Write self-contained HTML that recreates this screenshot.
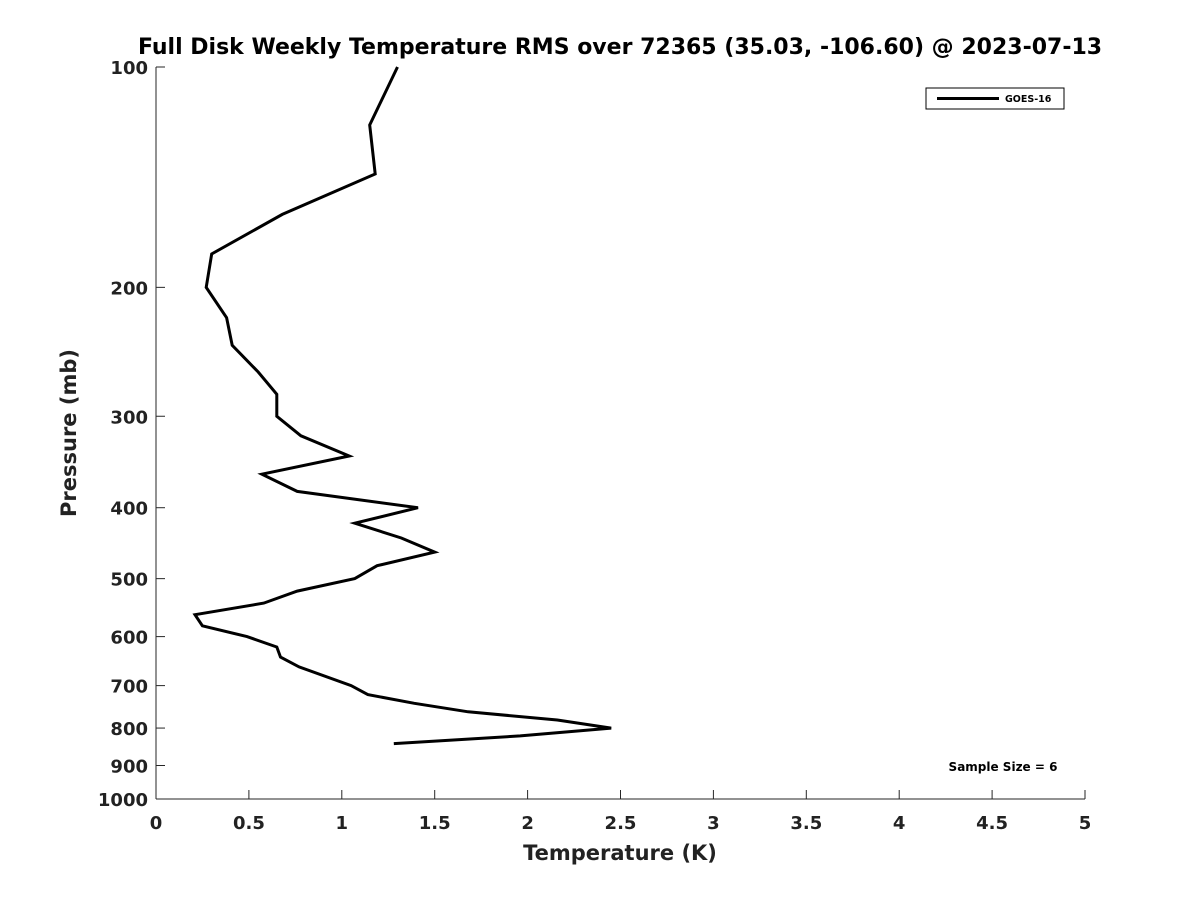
<!DOCTYPE html>
<html><head><meta charset="utf-8"><style>
body{margin:0;background:#fff;font-family:"DejaVu Sans",sans-serif}
svg text{font-family:"DejaVu Sans","Liberation Sans",sans-serif;font-weight:bold;fill:#222}
</style></head><body>
<svg id="chart" width="1200" height="900" xmlns="http://www.w3.org/2000/svg">
<rect width="1200" height="900" fill="#fff"/>
<text x="620" y="54" text-anchor="middle" font-size="22" style="fill:#000">Full Disk Weekly Temperature RMS over 72365 (35.03, -106.60) @ 2023-07-13</text>
<g id="axes"></g>
<path id="line" fill="none" stroke="#000" stroke-width="3" stroke-linejoin="miter"/>
<g>
<rect x="926" y="88" width="138" height="21" fill="#fff" stroke="#000" stroke-width="1"/>
<line x1="937" y1="98.5" x2="999" y2="98.5" stroke="#000" stroke-width="3"/>
<text x="1005" y="102" font-size="9.5" style="fill:#000">GOES-16</text>
</g>
<text x="1003" y="771" text-anchor="middle" font-size="12" style="fill:#000">Sample Size = 6</text>
<text x="620" y="860" text-anchor="middle" font-size="21">Temperature (K)</text>
<text transform="translate(76,433) rotate(-90)" text-anchor="middle" font-size="21">Pressure (mb)</text>
</svg>
<script>
const temps=[1.30,1.15,1.18,0.68,0.30,0.27,0.38,0.41,0.55,0.65,0.65,0.78,1.04,0.57,0.76,1.41,1.07,1.32,1.50,1.19,1.07,0.76,0.58,0.21,0.25,0.49,0.65,0.67,0.77,1.05,1.14,1.39,1.68,2.16,2.45,1.96,1.28];
const pressures=[100,120,140,159,180,200,220,240,261,280,300,319,340,360,380,400,420,440,460,480,500,520,540,560,580,600,620,640,660,700,720,740,760,780,800,820,840];
const xTicks=[0,0.5,1,1.5,2,2.5,3,3.5,4,4.5,5];
const xTickLabels=["0","0.5","1","1.5","2","2.5","3","3.5","4","4.5","5"];
const yTicks=[100,200,300,400,500,600,700,800,900,1000];
const X0=156,X1=1085,Y0=67,Y1=799;
const xs=t=>X0+(t/5)*(X1-X0);
const ys=p=>Y0+Math.log10(p/100)*(Y1-Y0);
const ns="http://www.w3.org/2000/svg";
const axes=document.getElementById('axes');
function mk(tag,attrs){const e=document.createElementNS(ns,tag);for(const k in attrs)e.setAttribute(k,attrs[k]);return e;}
const xl=mk('line',{x1:X0,y1:Y1,x2:X1,y2:Y1,stroke:'#262626','stroke-width':1});


axes.appendChild(xl);
const yl=mk('line',{x1:X0,y1:Y0,x2:X0,y2:Y1,stroke:'#262626','stroke-width':1});


axes.appendChild(yl);
xTicks.forEach((t,i)=>{
  const x=xs(t);
  axes.appendChild(mk('line',{x1:x,y1:Y1,x2:x,y2:Y1-9,stroke:'#262626'}));
  const tx=mk('text',{x:x,y:Y1+30,'text-anchor':'middle','font-size':18});
  tx.textContent=xTickLabels[i];
  
  
  axes.appendChild(tx);
});
yTicks.forEach(p=>{
  const y=ys(p);
  axes.appendChild(mk('line',{x1:X0,y1:y,x2:X0+9,y2:y,stroke:'#262626'}));
  const tx=mk('text',{x:X0-8,y:y+7,'text-anchor':'end','font-size':18});
  tx.textContent=String(p);
  
  
  axes.appendChild(tx);
});
document.getElementById('line').setAttribute('d',temps.map((t,i)=>(i?'L':'M')+xs(t).toFixed(1)+','+ys(pressures[i]).toFixed(1)).join(' '));
</script>
</body></html>
